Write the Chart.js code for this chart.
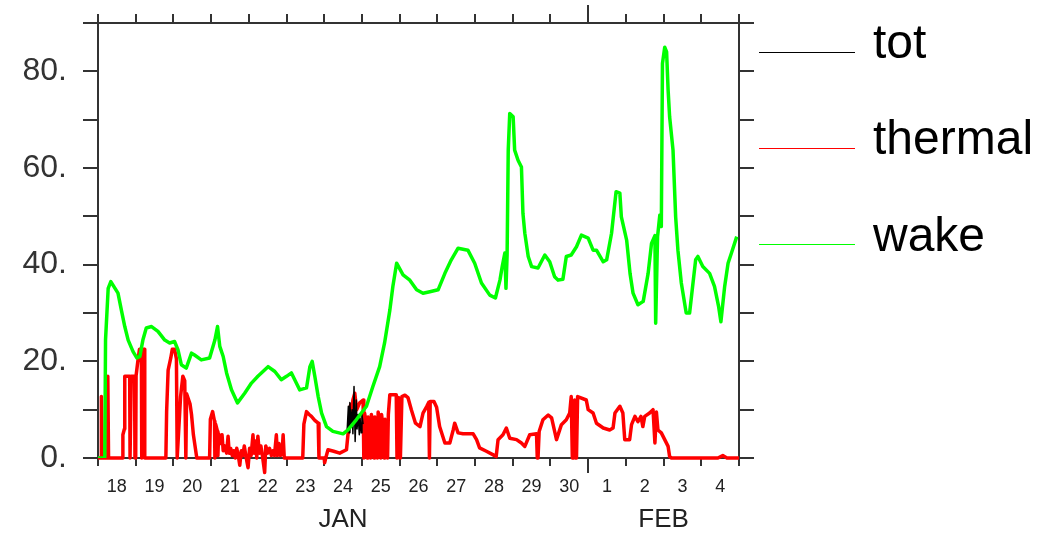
<!DOCTYPE html>
<html>
<head>
<meta charset="utf-8">
<script src="https://cdn.jsdelivr.net/npm/chart.js@4"></script>
<style>
  html, body { margin: 0; padding: 0; background: #fff; }
  canvas { display: block; }
</style>
</head>
<body>
<canvas id="chart" width="1053" height="533"></canvas>
<script>
// Day labels along the time axis (one slot per day), and the months they fall in
const dayLabels = ['18', '19', '20', '21', '22', '23', '24', '25', '26', '27', '28', '29', '30', '1', '2', '3', '4'];
const months = ['JAN', 'FEB'];
const monthStarts = [0, 13]; // day slot where each month begins

// wake: time in days from the left edge, value
const wakeDays = [0, 0.18, 0.20, 0.27, 0.34, 0.53, 0.62, 0.71, 0.80, 0.93, 1.03, 1.11, 1.19, 1.28, 1.42, 1.59,
  1.77, 1.90, 2.03, 2.12, 2.21, 2.34, 2.48, 2.56, 2.74, 2.96, 3.10, 3.17, 3.23, 3.32, 3.41, 3.54, 3.70, 3.89,
  4.07, 4.24, 4.51, 4.69, 4.86, 5.00, 5.13, 5.26, 5.35, 5.53, 5.62, 5.68, 5.75, 5.84, 5.93, 6.06, 6.23, 6.50,
  6.63, 6.85, 7.12, 7.29, 7.47, 7.60, 7.74, 7.82, 7.92, 8.09, 8.27, 8.45, 8.62, 8.80, 9.02, 9.20, 9.37, 9.55,
  9.81, 9.99, 10.17, 10.39, 10.54, 10.66, 10.72, 10.79, 10.82, 10.85, 10.88, 10.92, 11.01, 11.05, 11.14, 11.23,
  11.27, 11.32, 11.41, 11.50, 11.67, 11.85, 11.98, 12.11, 12.20, 12.33, 12.42, 12.55, 12.69, 12.82, 13.00, 13.13,
  13.22, 13.40, 13.49, 13.62, 13.74, 13.84, 13.88, 14.02, 14.11, 14.19, 14.32, 14.46, 14.59, 14.68, 14.77, 14.79,
  14.84, 14.90, 14.94, 14.97, 15.03, 15.08, 15.12, 15.16, 15.25, 15.32, 15.38, 15.47, 15.60, 15.69, 15.78, 15.85,
  15.91, 16.04, 16.22, 16.35, 16.46, 16.52, 16.62, 16.71, 16.80, 16.94];
const wake = [0, 0, 24.5, 35.1, 36.5, 34.1, 30.6, 27.2, 24.4, 22.0, 20.7, 21.0, 24.4, 26.9, 27.2, 26.2,
  24.4, 23.8, 24.1, 22.4, 19.3, 18.6, 21.7, 21.3, 20.3, 20.7, 24.4, 27.2, 23.1, 21.0, 17.6, 14.1, 11.4, 13.4,
  15.5, 16.9, 18.9, 17.9, 16.2, 16.9, 17.6, 15.5, 14.1, 14.5, 18.9, 20.0, 16.9, 12.7, 9.3, 6.5, 5.5, 5.0,
  5.8, 7.9, 10.7, 14.8, 18.9, 23.8, 30.6, 35.5, 40.3, 37.9, 36.8, 34.8, 34.1, 34.4, 34.8, 38.2, 41.0, 43.4,
  43.0, 40.3, 36.2, 33.7, 33.1, 36.8, 39.6, 42.4, 35.1, 42.0, 63.7, 71.3, 70.6, 63.7, 61.6, 60.2,
  50.6, 46.5, 41.7, 39.6, 39.3, 42.0, 40.6, 37.5, 36.8, 37.0, 41.7, 42.0, 43.7, 46.1, 45.5, 43.0,
  43.0, 40.6, 41.0, 46.5, 55.1, 54.8, 49.9, 45.1, 38.2, 34.1, 31.7, 32.4, 38.2, 44.4, 46.0, 27.9,
  45.8, 50.3, 47.9, 81.6, 85.0, 84.0, 76.1, 70.6, 63.7, 49.9, 43.0, 36.2, 30.0, 30.0, 36.2, 41.0,
  41.7, 39.6, 38.2, 35.5, 31.3, 28.2, 35.5, 40.3, 42.4, 45.8];

// thermal
const thermalDays = [
  0, 0.08, 0.09, 0.11, 0.25, 0.26, 0.28, 0.65, 0.66, 0.70, 0.71, 0.84, 0.85, 0.87, 0.88, 0.97, 0.98, 1.00, 1.01,
  1.05, 1.10, 1.15, 1.16, 1.18, 1.23, 1.24,
  1.80, 1.82, 1.86, 1.93, 1.97, 2.03, 2.08, 2.10, 2.12, 2.19, 2.25, 2.30, 2.33, 2.35, 2.44, 2.48, 2.53, 2.62,
  2.96, 2.98, 3.04, 3.09, 3.10, 3.12, 3.17, 3.18, 3.20, 3.25, 3.29, 3.32, 3.36, 3.41, 3.45, 3.48, 3.52, 3.56,
  3.60, 3.64, 3.68, 3.72, 3.76, 3.80, 3.84, 3.88, 3.92, 3.98, 4.02, 4.06, 4.11, 4.14, 4.18, 4.21, 4.24, 4.28,
  4.32, 4.36, 4.42, 4.45, 4.50, 4.55, 4.60, 4.64, 4.68, 4.73, 4.76, 4.80, 4.84, 4.88, 4.91, 4.94,
  5.43, 5.46, 5.53, 5.60, 5.66, 5.75, 5.84, 5.86,
  6.00, 6.01, 6.04, 6.10, 6.25, 6.41, 6.59, 6.66, 6.70, 6.73, 6.76, 6.81, 6.86, 6.94, 7.03, 7.05,
  7.07, 7.12, 7.14, 7.16, 7.21, 7.23, 7.25, 7.30, 7.32, 7.34, 7.39, 7.41, 7.43, 7.48, 7.50, 7.52, 7.57, 7.59,
  7.61, 7.66, 7.68, 7.70, 7.74, 7.91, 7.93, 7.95, 7.97, 8.00, 8.02,
  8.06, 8.14, 8.22, 8.31, 8.42, 8.54, 8.62, 8.72, 8.77, 8.79, 8.81, 8.91, 8.98, 9.06, 9.20, 9.33, 9.42, 9.46,
  9.55, 9.68, 9.95, 10.04, 10.12, 10.30, 10.47, 10.56, 10.61, 10.74, 10.83, 10.92, 11.10, 11.23, 11.32, 11.45,
  11.63, 11.65, 11.67, 11.70, 11.80, 11.94, 12.03, 12.16, 12.29, 12.42, 12.51, 12.55, 12.58, 12.62, 12.64,
  12.66, 12.69, 12.72, 12.95, 13.00, 13.13, 13.22, 13.40, 13.57, 13.66, 13.71, 13.84, 13.92, 13.97, 14.10,
  14.15, 14.24, 14.32, 14.40, 14.45, 14.50, 14.63, 14.72, 14.77, 14.81, 14.85, 14.94, 15.03, 15.12, 15.16,
  15.21, 16.44, 16.57, 16.68, 17.00];
const thermal = [
  0, 0, 12.7, 0, 0, 16.9, 0, 0, 4.8, 6.0, 16.9, 16.9, 0, 0, 16.9, 16.9, 0, 0, 17.0,
  19.6, 22.5, 22.5, 0, 22.5, 22.5, 0,
  0, 9.6, 18.2, 20.7, 22.5, 22.5, 20.5, 0, 0, 12.7, 16.9, 16.0, 0, 13.3, 11.2, 9.0, 4.8, 0,
  0, 8.0, 9.6, 7.6, 0, 7.0, 5.5, 0.5, 5.0, 3.0, 4.8, 1.5, 2.5, 1.0, 4.5, 1.0, 2.0, 0.5,
  1.5, 0, 2.0, 0.5, -1.5, 1.5, 0.5, 2.5, 0.5, -2.0, 2.0, 0.5, 4.8, 1.0, 3.5, 0, 4.5, 1.0,
  2.5, 0.5, -3.0, 2.5, 1.0, 2.0, 0.5, 1.5, 0.5, 4.8, 0.5, 3.0, 0.5, 1.0, 4.8, 0,
  0, 7.0, 9.6, 9.0, 8.6, 7.8, 7.2, 0,
  0, -1.0, 0, 1.7, 1.4, 1.0, 1.7, 7.3, 11.0, 9.0, 12.0, 13.4, 10.0, 11.4, 12.0, 0,
  9.3, 7.0, 0, 8.5, 6.0, 0, 9.0, 7.0, 0, 8.5, 6.0, 0, 9.5, 7.0, 0, 9.0, 6.0, 0,
  8.0, 6.5, 0, 9.0, 13.1, 13.1, 0, 0, 12.5, 0, 0,
  12.7, 13.0, 12.5, 10.0, 7.2, 6.5, 9.3, 10.7, 11.5, 0, 11.7, 11.7, 10.5, 6.5, 3.1, 3.1, 5.8, 7.2,
  5.2, 5.0, 5.0, 3.8, 2.1, 1.4, 0.7, 0.3, 3.8, 4.8, 6.2, 4.1, 3.8, 3.1, 2.4, 4.8,
  5.0, 0, 0, 5.5, 7.9, 8.9, 8.3, 3.8, 6.9, 7.9, 9.3, 12.7, 0, 0, 12.0,
  0, 0, 12.7, 12.0, 10.0, 9.3, 7.2, 6.2, 5.8, 6.2, 9.3, 10.7, 9.3, 3.8, 3.8,
  6.9, 8.6, 7.5, 8.6, 6.5, 8.6, 9.3, 10.0, 3.1, 9.5, 5.8, 5.2, 3.8, 2.4, 0.3,
  0, 0, 0.5, 0, 0];

// tot (only reported for a few hours on the 24th)
const totDays = [6.61, 6.64, 6.66, 6.68, 6.71, 6.74, 6.76, 6.79, 6.82, 6.85, 6.87, 6.90, 6.93, 6.95, 6.98, 7.00, 7.03];
const tot = [6.0, 10.7, 5.2, 11.5, 7.0, 10.0, 5.0, 14.8, 3.4, 12.0, 6.0, 9.0, 4.8, 8.3, 5.2, 9.0, 7.0];

const points = (days, vals) => days.map((d, i) => ({ x: d, y: vals[i] }));

const axisColor = '#333';

// box around the plot with outward tick marks on all four sides,
// month names under the day labels and the legend on the right
const ferretFrame = {
  id: 'ferretFrame',
  beforeDatasetsDraw(chart) {
    const { ctx, chartArea: a, scales: { x, y } } = chart;
    ctx.save();
    ctx.strokeStyle = axisColor;
    ctx.lineWidth = 2;
    ctx.strokeRect(a.left, a.top, a.right - a.left, a.bottom - a.top);
    ctx.beginPath();
    for (let v = y.min; v <= y.max; v += 10) {
      const py = Math.round(y.getPixelForValue(v));
      ctx.moveTo(a.left - 15, py); ctx.lineTo(a.left, py);
      ctx.moveTo(a.right, py); ctx.lineTo(a.right + 15, py);
    }
    for (let d = 0; d <= dayLabels.length; d++) {
      const px = Math.round(x.getPixelForValue(d));
      const long = d > 0 && monthStarts.includes(d);
      ctx.moveTo(px, a.top); ctx.lineTo(px, a.top - (long ? 18 : 9));
      ctx.moveTo(px, a.bottom); ctx.lineTo(px, a.bottom + (long ? 15 : 8));
    }
    ctx.stroke();
    ctx.restore();
  },
  afterDraw(chart) {
    const { ctx, scales: { x } } = chart;
    ctx.save();
    ctx.fillStyle = '#222';
    ctx.font = '26px "Liberation Sans"';
    ctx.textAlign = 'center';
    ctx.textBaseline = 'alphabetic';
    months.forEach((m, i) => {
      const end = i + 1 < monthStarts.length ? monthStarts[i + 1] : dayLabels.length;
      ctx.fillText(m, x.getPixelForValue((monthStarts[i] + end) / 2), 527);
    });

    ctx.font = '48px "Liberation Sans"';
    ctx.textAlign = 'left';
    ctx.fillStyle = '#000';
    chart.data.datasets.forEach((ds, i) => {
      const ly = 51.5 + i * 96.3;
      ctx.strokeStyle = ds.borderColor;
      ctx.lineWidth = 1;
      ctx.beginPath();
      ctx.moveTo(759, Math.round(ly) + 0.5);
      ctx.lineTo(855, Math.round(ly) + 0.5);
      ctx.stroke();
      ctx.fillText(ds.label, 873, ly + 6.5);
    });
    ctx.restore();
  }
};

new Chart(document.getElementById('chart'), {
  type: 'line',
  data: {
    datasets: [
      { label: 'tot', data: points(totDays, tot), borderColor: '#000000', borderWidth: 1.5, order: 1 },
      { label: 'thermal', data: points(thermalDays, thermal), borderColor: '#ff0000', borderWidth: 3.5, order: 2, clip: false },
      { label: 'wake', data: points(wakeDays, wake), borderColor: '#00ff00', borderWidth: 3.5, order: 0 }
    ]
  },
  options: {
    responsive: false,
    animation: false,
    layout: { padding: { top: 23, right: 314, left: 0, bottom: 0 } },
    elements: {
      point: { radius: 0 },
      line: { tension: 0, fill: false, borderJoinStyle: 'round' }
    },
    scales: {
      x: {
        type: 'linear',
        min: 0,
        max: dayLabels.length,
        grid: { display: false, drawTicks: false },
        border: { display: false },
        afterBuildTicks: (scale) => {
          scale.ticks = dayLabels.map((_, i) => ({ value: i + 0.5 }));
        },
        afterFit: (scale) => {
          scale.height = 75;
          scale.paddingLeft = 0;
          scale.paddingRight = 0;
        },
        ticks: {
          autoSkip: false,
          maxRotation: 0,
          padding: 18,
          color: '#222',
          font: { family: 'Liberation Sans', size: 18 },
          callback: (v) => dayLabels[Math.floor(v)]
        }
      },
      y: {
        min: 0,
        max: 90,
        grid: { display: false, drawTicks: false },
        border: { display: false },
        afterFit: (scale) => {
          scale.width = 98;
          scale.paddingTop = 0;
          scale.paddingBottom = 0;
        },
        ticks: {
          stepSize: 10,
          autoSkip: false,
          padding: 31,
          color: '#333',
          font: { family: 'Liberation Sans', size: 32 },
          callback: (v) => (v % 20 === 0 ? v + '.' : '')
        }
      }
    },
    plugins: {
      legend: { display: false },
      tooltip: { enabled: false }
    }
  },
  plugins: [ferretFrame]
});
</script>
</body>
</html>
